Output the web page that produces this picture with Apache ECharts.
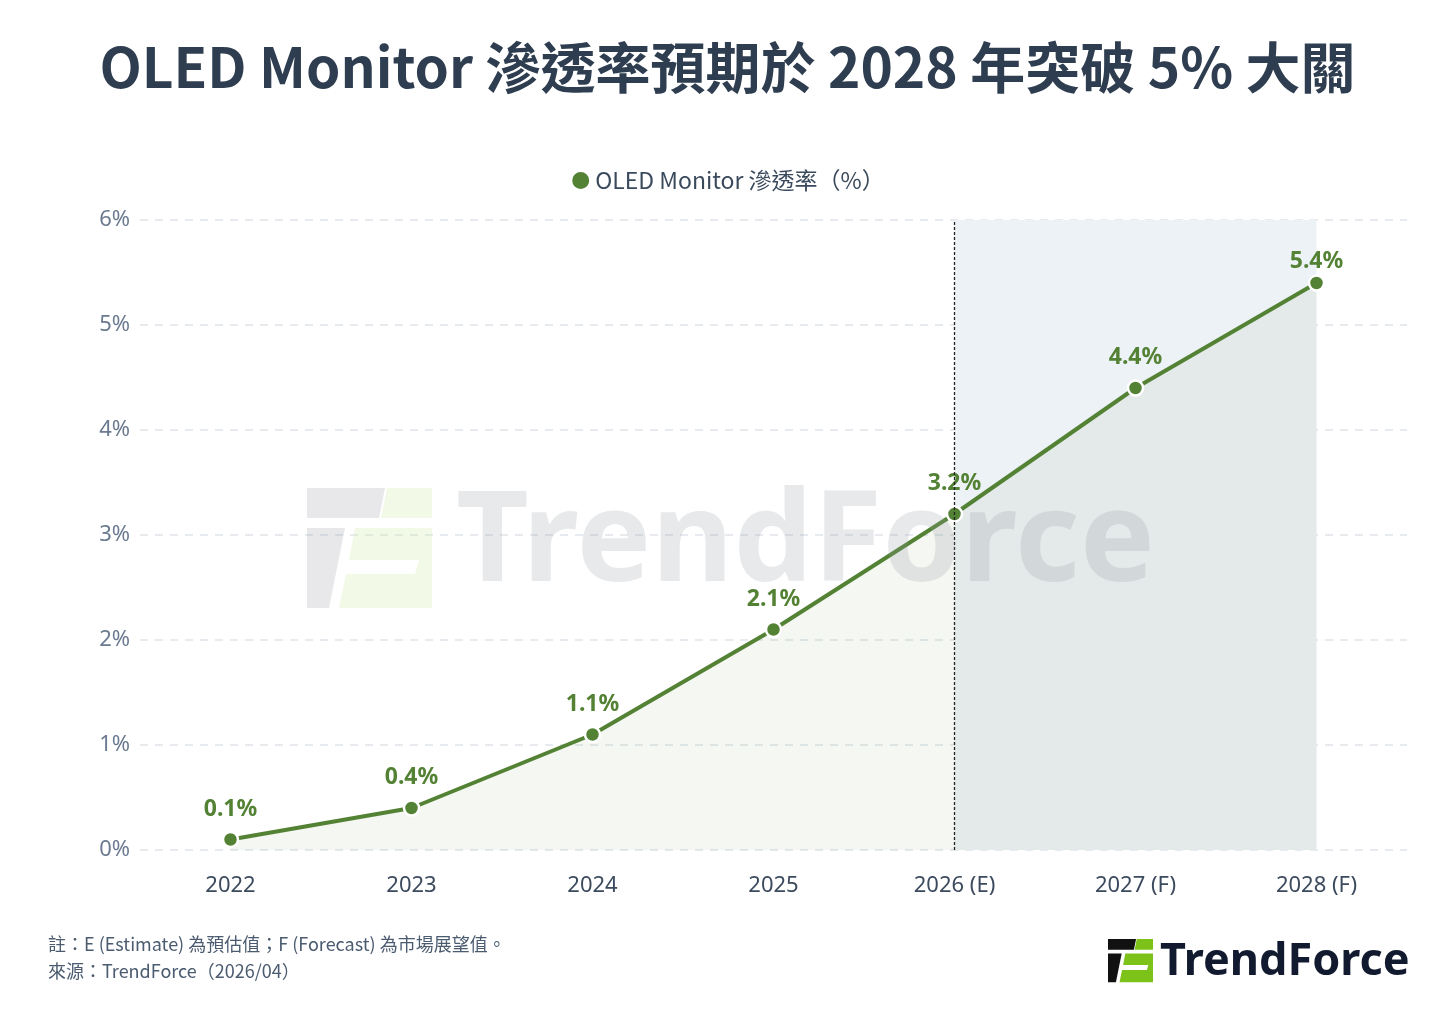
<!DOCTYPE html>
<html lang="zh-Hant">
<head>
    <meta charset="UTF-8">
    <title>OLED Monitor 滲透率</title>
    <script src="https://cdn.jsdelivr.net/npm/echarts@6/dist/echarts.min.js"></script>
    <style>
        html, body { margin: 0; padding: 0; background: #fff; }
        #main { width: 1455px; height: 1019px; }
    </style>
</head>
<body>
    <div id="main"></div>
    <script type="text/javascript">
        // data
        var years = ['2022', '2023', '2024', '2025', '2026 (E)', '2027 (F)', '2028 (F)'];
        var penetration = [0.1, 0.4, 1.1, 2.1, 3.2, 4.4, 5.4];
        var yTicks = [0, 1, 2, 3, 4, 5, 6];
        var forecastStart = '2026 (E)';
        var forecastEnd = '2028 (F)';

        var green = '#548235';
        var cjk = '"Noto Sans CJK TC", "Noto Sans", sans-serif';
        var latin = '"Noto Sans", Lato, sans-serif';

        var myChart = echarts.init(document.getElementById('main'));

        // logo icon pieces, s = scale of a 125x120 box
        function logoIcon(x, y, s, leftColor, rightColor, z) {
            function p(pts) { return pts.map(function (q) { return [x + q[0] * s, y + q[1] * s]; }); }
            return [
                { type: 'polygon', z: z, shape: { points: p([[0, 0], [78, 0], [72, 30], [0, 30]]) }, style: { fill: leftColor } },
                { type: 'polygon', z: z, shape: { points: p([[80, 0], [125, 0], [125, 30], [74, 30]]) }, style: { fill: rightColor } },
                { type: 'polygon', z: z, shape: { points: p([[0, 40], [38, 40], [22, 120], [0, 120]]) }, style: { fill: leftColor } },
                { type: 'polygon', z: z, shape: { points: p([[48, 40], [125, 40], [125, 72], [42, 72]]) }, style: { fill: rightColor } },
                { type: 'polygon', z: z, shape: { points: p([[112, 72], [125, 72], [125, 120], [32, 120], [39, 86], [108, 86]]) }, style: { fill: rightColor } }
            ];
        }

        var graphics = [
            {
                type: 'text', left: 'center', top: 40,
                style: {
                    text: 'OLED Monitor 滲透率預期於 2028 年突破 5% 大關',
                    font: 'bold 55px ' + cjk, fill: '#2e3e50'
                }
            },
            {
                // watermark
                type: 'group', silent: true,
                children: logoIcon(307, 488, 1, 'rgba(150,152,160,0.22)', 'rgba(205,230,160,0.25)', 100).concat([
                    {
                        type: 'text', x: 456, y: 482, z: 100,
                        style: { text: 'TrendForce', font: 'bold 126px "Noto Sans", Lato, sans-serif', fill: 'rgba(150,153,163,0.22)' }
                    }
                ])
            },
            {
                type: 'text', left: 48, top: 935,
                style: { text: '註：E (Estimate) 為預估值；F (Forecast) 為市場展望值。', font: '18px ' + cjk, fill: '#4b5b70' }
            },
            {
                type: 'text', left: 48, top: 962,
                style: { text: '來源：TrendForce（2026/04）', font: '18px ' + cjk, fill: '#4b5b70' }
            },
            {
                type: 'group',
                children: logoIcon(1108, 939, 0.36, '#111111', '#7cc218', 0).concat([
                    {
                        type: 'text', x: 1160, y: 940,
                        style: { text: 'TrendForce', font: 'bold 45px "Noto Sans", Lato, sans-serif', fill: '#111a2e' }
                    }
                ])
            }
        ];

        // points with labels; the last label sits a bit closer to its point
        var seriesData = penetration.map(function (v, i) {
            if (i === penetration.length - 1) {
                return { value: v, label: { distance: 1 } };
            }
            return v;
        });

        var option = {
            backgroundColor: '#ffffff',
            animation: false,
            graphic: graphics,
            legend: {
                top: 164,
                left: 'center',
                icon: 'circle',
                itemWidth: 19,
                itemHeight: 19,
                itemGap: 10,
                textStyle: { fontSize: 23, color: '#3a4a5c', fontFamily: cjk },
                data: ['OLED Monitor 滲透率（%）']
            },
            grid: {
                left: 140,
                right: 48,
                top: 220,
                bottom: 169,
                containLabel: false
            },
            xAxis: {
                type: 'category',
                data: years,
                boundaryGap: true,
                axisLine: { show: false },
                axisTick: { show: false },
                axisLabel: { fontSize: 22, color: '#3c4a5e', fontFamily: latin, margin: 25 }
            },
            yAxis: {
                type: 'value',
                min: yTicks[0],
                max: yTicks[yTicks.length - 1],
                interval: 1,
                axisLine: { show: false },
                axisTick: { show: false },
                axisLabel: {
                    fontSize: 22, color: '#6b7a90', fontFamily: latin, margin: 10,
                    formatter: '{value}%'
                },
                splitLine: { lineStyle: { color: '#dfe5ec', type: [8, 7], width: 1.5 } }
            },
            series: [
                {
                    name: 'OLED Monitor 滲透率（%）',
                    type: 'line',
                    data: seriesData,
                    color: green,
                    symbol: 'circle',
                    symbolSize: 15,
                    lineStyle: { width: 4, color: green },
                    itemStyle: { color: green, borderColor: '#ffffff', borderWidth: 2.5 },
                    areaStyle: { color: 'rgba(80,135,45,0.09)' },
                    label: {
                        show: true,
                        position: 'top',
                        distance: 10,
                        fontSize: 23,
                        fontWeight: 'bold',
                        color: green,
                        fontFamily: latin,
                        formatter: '{c}%'
                    },
                    markArea: {
                        silent: true,
                        itemStyle: { color: '#edf2f6' },
                        data: [[{ xAxis: forecastStart }, { xAxis: forecastEnd }]]
                    },
                    markLine: {
                        silent: true,
                        symbol: 'none',
                        label: { show: false },
                        lineStyle: { color: '#222222', type: [3, 2], width: 1.3 },
                        data: [{ xAxis: forecastStart }]
                    },
                    z: 3
                }
            ]
        };

        myChart.setOption(option);
    </script>
</body>
</html>
